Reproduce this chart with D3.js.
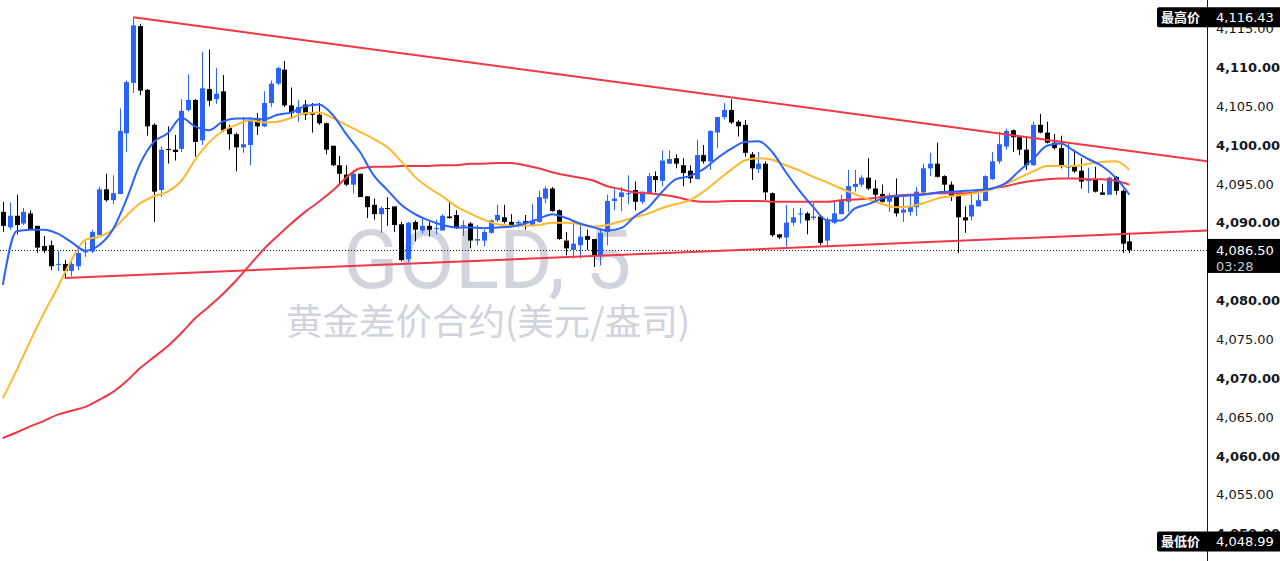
<!DOCTYPE html>
<html>
<head>
<meta charset="utf-8">
<script src="https://cdn.jsdelivr.net/npm/d3@7"></script>
<style>
  html, body { margin: 0; padding: 0; background: #fff; }
  svg { display: block; }
</style>
</head>
<body>
<svg id="chart" width="1280" height="561"></svg>
<script>
// 5 minute candles (oldest first)
const opens = [
  4091.4, 4089.4, 4090.9, 4089.9, 4091.2, 4089.6, 4087.0, 4087.1, 4084.6, 4084.7,
  4083.8, 4084.4, 4086.2, 4086.3, 4088.4, 4094.3, 4092.9, 4093.7, 4101.5, 4108.0,
  4115.3, 4107.1, 4102.6, 4094.2, 4099.5, 4099.4, 4099.5, 4104.5, 4105.8, 4100.6,
  4107.2, 4105.9, 4106.9, 4102.2, 4101.4, 4099.7, 4100.0, 4103.4, 4102.4, 4105.4,
  4107.9, 4109.7, 4105.1, 4104.1, 4105.2, 4104.1, 4103.9, 4102.8, 4099.9, 4097.4,
  4096.2, 4094.9, 4096.3, 4093.4, 4092.3, 4091.1, 4091.9, 4092.1, 4089.8, 4085.3,
  4090.1, 4089.0, 4089.6, 4089.2, 4089.0, 4090.8, 4091.0, 4089.6, 4089.9, 4087.7,
  4087.7, 4088.7, 4090.3, 4090.7, 4090.1, 4089.9, 4090.2, 4089.7, 4090.1, 4093.1,
  4094.4, 4091.6, 4087.7, 4086.5, 4087.1, 4088.3, 4087.9, 4085.8, 4088.8, 4092.8,
  4093.3, 4093.7, 4094.2, 4092.7, 4093.8, 4096.0, 4095.4, 4097.6, 4098.3, 4097.4,
  4096.7, 4095.6, 4098.7, 4097.9, 4101.6, 4103.6, 4104.5, 4103.0, 4102.6, 4098.8,
  4096.9, 4097.6, 4093.8, 4088.5, 4088.1, 4090.0, 4091.1, 4091.2, 4090.6, 4090.8,
  4087.7, 4090.0, 4091.1, 4092.7, 4094.6, 4094.9, 4095.8, 4094.4, 4093.7, 4092.7,
  4093.4, 4091.3, 4091.4, 4092.0, 4093.9, 4097.0, 4097.6, 4096.0, 4094.9, 4093.6,
  4090.7, 4090.8, 4092.1, 4092.8, 4095.6, 4097.9, 4099.8, 4101.9, 4101.0, 4099.4,
  4097.4, 4102.6, 4101.6, 4100.3, 4099.6, 4097.1, 4097.3, 4096.7, 4095.4, 4095.5,
  4093.9, 4093.6, 4095.9, 4094.1, 4087.6
];
const highs = [
  4092.7, 4092.6, 4093.6, 4091.9, 4091.6, 4089.6, 4088.3, 4087.7, 4086.4, 4085.2,
  4085.3, 4086.6, 4087.6, 4089.1, 4094.6, 4096.3, 4096.1, 4104.7, 4108.3, 4116.43,
  4115.6, 4107.2, 4102.8, 4099.8, 4102.4, 4101.3, 4105.9, 4109.1, 4105.9, 4112.0,
  4112.3, 4109.9, 4109.0, 4102.6, 4101.6, 4103.6, 4103.6, 4104.1, 4106.9, 4108.3,
  4110.1, 4110.8, 4107.4, 4105.8, 4105.8, 4105.4, 4105.4, 4102.9, 4099.9, 4098.6,
  4097.4, 4096.8, 4096.3, 4093.4, 4093.1, 4092.1, 4093.3, 4092.1, 4090.1, 4090.1,
  4090.3, 4090.7, 4090.1, 4090.4, 4091.1, 4092.8, 4091.6, 4090.3, 4090.1, 4089.7,
  4089.1, 4090.4, 4092.3, 4092.3, 4091.1, 4090.3, 4091.0, 4092.4, 4094.1, 4094.7,
  4094.6, 4091.7, 4088.8, 4090.1, 4089.9, 4089.1, 4087.9, 4089.1, 4093.6, 4094.4,
  4094.6, 4096.1, 4095.3, 4094.0, 4096.4, 4096.6, 4099.3, 4099.3, 4098.8, 4098.3,
  4097.4, 4100.7, 4100.0, 4101.9, 4103.6, 4105.4, 4105.9, 4103.2, 4103.2, 4099.1,
  4099.1, 4097.9, 4093.9, 4088.5, 4092.3, 4091.9, 4091.9, 4091.4, 4092.6, 4091.0,
  4090.7, 4092.7, 4093.6, 4096.8, 4096.8, 4096.1, 4098.3, 4095.5, 4094.9, 4093.8,
  4095.7, 4093.4, 4093.4, 4094.6, 4097.6, 4099.0, 4100.3, 4096.1, 4095.3, 4093.7,
  4092.1, 4093.7, 4093.8, 4096.1, 4099.1, 4101.7, 4102.1, 4102.0, 4101.0, 4100.9,
  4103.0, 4104.0, 4103.0, 4101.4, 4101.2, 4100.2, 4099.4, 4098.3, 4097.1, 4097.2,
  4095.0, 4095.9, 4096.0, 4094.3, 4088.7
];
const lows = [
  4088.8, 4089.1, 4088.5, 4089.7, 4089.1, 4086.1, 4086.1, 4083.9, 4083.8, 4082.9,
  4083.1, 4083.9, 4085.6, 4086.1, 4088.4, 4092.7, 4092.4, 4093.7, 4099.1, 4106.7,
  4106.4, 4101.2, 4090.1, 4093.3, 4097.6, 4098.0, 4099.1, 4104.3, 4098.5, 4100.0,
  4105.0, 4105.3, 4101.7, 4099.4, 4096.6, 4099.0, 4097.4, 4101.3, 4102.3, 4104.9,
  4107.7, 4104.9, 4103.4, 4103.0, 4103.2, 4101.6, 4102.6, 4098.8, 4097.3, 4095.1,
  4094.7, 4093.8, 4093.3, 4090.6, 4090.4, 4088.7, 4089.6, 4088.8, 4085.0, 4084.9,
  4087.6, 4088.6, 4088.2, 4088.5, 4089.0, 4090.5, 4089.2, 4088.3, 4086.7, 4087.1,
  4087.0, 4088.6, 4090.1, 4089.9, 4089.4, 4089.4, 4089.1, 4089.5, 4090.0, 4092.5,
  4091.4, 4087.8, 4085.8, 4085.4, 4085.4, 4086.5, 4084.3, 4084.5, 4087.1, 4091.6,
  4091.5, 4092.4, 4091.6, 4092.4, 4093.8, 4093.9, 4094.7, 4097.6, 4097.0, 4094.7,
  4095.1, 4095.6, 4097.6, 4096.8, 4099.6, 4103.3, 4102.7, 4101.1, 4098.5, 4095.5,
  4096.4, 4092.9, 4088.2, 4087.9, 4086.9, 4089.6, 4089.9, 4088.5, 4090.3, 4087.1,
  4087.0, 4089.8, 4091.1, 4091.4, 4094.0, 4094.6, 4094.2, 4092.8, 4092.6, 4091.4,
  4090.8, 4090.1, 4090.9, 4090.9, 4093.8, 4096.0, 4095.8, 4093.9, 4092.8, 4086.1,
  4088.7, 4090.3, 4092.1, 4092.8, 4095.5, 4097.6, 4099.4, 4099.1, 4098.7, 4096.8,
  4097.3, 4101.5, 4100.2, 4099.4, 4097.0, 4095.8, 4096.4, 4094.4, 4093.8, 4093.9,
  4093.6, 4093.6, 4093.6, 4086.1, 4086.1
];
const closes = [
  4089.6, 4090.9, 4089.7, 4091.4, 4089.2, 4086.8, 4086.4, 4084.4, 4084.7, 4083.8,
  4084.7, 4086.1, 4086.3, 4088.8, 4094.3, 4092.9, 4093.8, 4101.8, 4108.1, 4115.4,
  4107.0, 4102.4, 4094.0, 4099.4, 4099.4, 4099.1, 4104.4, 4105.8, 4100.4, 4107.3,
  4105.7, 4106.6, 4101.9, 4101.4, 4099.7, 4100.1, 4103.2, 4102.4, 4105.4, 4107.9,
  4109.9, 4105.1, 4104.1, 4104.9, 4103.9, 4103.9, 4102.8, 4099.4, 4097.4, 4096.3,
  4094.9, 4096.3, 4093.3, 4092.0, 4091.1, 4091.9, 4091.8, 4089.7, 4085.2, 4090.0,
  4089.1, 4089.6, 4089.1, 4089.3, 4090.9, 4090.6, 4089.3, 4089.7, 4087.7, 4087.9,
  4088.8, 4090.3, 4091.0, 4090.1, 4089.7, 4090.1, 4090.0, 4090.2, 4093.3, 4094.4,
  4091.5, 4087.9, 4086.7, 4087.3, 4088.2, 4087.8, 4085.8, 4088.7, 4092.8, 4093.1,
  4093.9, 4093.8, 4092.7, 4094.0, 4096.0, 4095.5, 4098.0, 4098.2, 4097.6, 4096.4,
  4095.7, 4098.7, 4097.9, 4101.8, 4103.6, 4104.5, 4102.9, 4102.4, 4099.0, 4097.0,
  4097.6, 4093.9, 4088.4, 4088.1, 4090.0, 4090.7, 4091.2, 4090.3, 4090.8, 4087.4,
  4090.4, 4091.2, 4092.9, 4094.7, 4095.0, 4095.8, 4094.4, 4093.6, 4092.7, 4093.4,
  4091.2, 4091.7, 4092.0, 4094.0, 4097.0, 4097.6, 4095.9, 4094.9, 4093.5, 4090.7,
  4090.3, 4092.3, 4092.9, 4096.0, 4097.9, 4100.1, 4101.8, 4101.0, 4099.4, 4097.4,
  4102.6, 4101.6, 4100.3, 4099.6, 4097.2, 4097.3, 4096.6, 4095.3, 4095.5, 4094.0,
  4093.6, 4095.8, 4094.1, 4087.3, 4086.5
];

// moving averages, read every 2nd candle
const maStep = 2;
const maFast = [
  4082.0, 4088.9, 4089.1, 4089.1, 4088.6, 4087.5, 4086.4, 4087.1, 4089.1, 4093.0,
  4097.6, 4100.4, 4101.5, 4103.5, 4102.4, 4101.9, 4103.0, 4103.4, 4103.4, 4103.3,
  4103.9, 4104.2, 4105.0, 4105.2, 4103.9, 4101.4, 4099.1, 4096.1, 4094.2, 4092.3,
  4091.1, 4090.3, 4089.7, 4089.4, 4089.4, 4089.3, 4089.4, 4089.5, 4089.9, 4090.5,
  4091.1, 4090.6, 4089.9, 4089.4, 4089.0, 4089.3, 4090.8, 4092.0, 4094.0, 4095.6,
  4096.0, 4096.9, 4098.3, 4099.5, 4100.4, 4100.5, 4099.1, 4096.5, 4094.1, 4092.0,
  4090.3, 4090.3, 4091.8, 4092.4, 4093.1, 4093.4, 4093.5, 4093.6, 4093.9, 4094.0,
  4094.1, 4094.2, 4094.4, 4095.1, 4096.7, 4098.2, 4099.9, 4100.2, 4099.2, 4098.2,
  4097.3, 4095.8, 4093.6
];
const maMid = [
  4067.4, 4071.0, 4074.8, 4078.4, 4081.7, 4085.2, 4087.8, 4088.2, 4089.1, 4090.9,
  4092.5, 4093.4, 4094.0, 4095.4, 4098.1, 4100.3, 4101.8, 4102.6, 4103.2, 4102.9,
  4103.0, 4103.5, 4104.1, 4104.2, 4103.5, 4102.6, 4101.7, 4100.8, 4099.7, 4097.9,
  4095.9, 4094.5, 4093.4, 4092.1, 4091.2, 4090.4, 4089.8, 4089.6, 4089.6, 4089.7,
  4090.0, 4090.0, 4089.8, 4089.5, 4089.7, 4090.2, 4090.7, 4091.2, 4091.9, 4092.4,
  4092.9, 4094.0, 4095.4, 4096.8, 4098.0, 4098.3, 4098.1, 4097.4, 4096.7, 4095.9,
  4095.2, 4094.4, 4093.7, 4093.0, 4092.4, 4092.0, 4092.1, 4092.5, 4093.1, 4093.4,
  4093.6, 4093.9, 4094.3, 4095.0, 4095.8, 4096.6, 4097.3, 4097.3, 4097.3, 4097.6,
  4097.8, 4097.9, 4096.8
];
const maSlow = [
  4062.3, 4063.0, 4063.8, 4064.5, 4065.3, 4065.8, 4066.3, 4067.2, 4068.2, 4069.6,
  4071.3, 4072.7, 4074.1, 4075.8, 4077.7, 4079.2, 4080.8, 4082.6, 4084.6, 4086.6,
  4088.3, 4089.9, 4091.4, 4092.7, 4094.1, 4095.8, 4097.0, 4097.2, 4097.2, 4097.3,
  4097.3, 4097.3, 4097.4, 4097.4, 4097.6, 4097.6, 4097.7, 4097.7, 4097.4, 4097.0,
  4096.5, 4096.1, 4095.8, 4095.4, 4094.7, 4094.3, 4093.9, 4093.8, 4093.6, 4093.3,
  4092.9, 4092.7, 4092.7, 4092.8, 4092.8, 4092.8, 4092.7, 4092.7, 4092.7, 4092.7,
  4092.7, 4092.9, 4093.0, 4093.1, 4093.3, 4093.5, 4093.6, 4093.7, 4093.8, 4093.8,
  4093.8, 4094.0, 4094.4, 4094.7, 4095.1, 4095.4, 4095.6, 4095.7, 4095.7, 4095.6,
  4095.6, 4095.4, 4094.9
];

// trend lines drawn on the chart: [candle index, price]
const trendUpper = [[19, 4116.43], [175.4, 4097.9]];
const trendLower = [[9, 4082.9], [175.4, 4089.0]];

// 4,085 sits under the last price badge, so it is not listed
const tickValues = [4050, 4055, 4060, 4065, 4070, 4075, 4080, 4090, 4095, 4100, 4105, 4110, 4115];
const highPrice = 4116.43;
const lowPrice = 4048.99;
const lastPrice = 4086.5;
const countdown = '03:28';
const watermark = ['GOLD, 5', '黄金差价合约(美元/盎司)'];

const width = 1280;
const height = 561;
const axisX = 1207;
const upColor = '#2962ff';
const downColor = '#000000';
const numFont = '"DejaVu Sans", sans-serif';
const cjkFont = '"Noto Sans CJK SC", sans-serif';
const fmt = d3.format(',.2f');

const svg = d3.select('#chart');
svg.append('rect').attr('width', width).attr('height', height).attr('fill', '#fff');

const x = d3.scaleLinear().domain([0, opens.length - 1]).range([2.8, 1129.4]);
const y = d3.scaleLinear().domain([4045, 4120]).range([572.4, -10.4]);

svg.append('clipPath').attr('id', 'plot-clip')
  .append('rect').attr('width', axisX).attr('height', height);
const plot = svg.append('g').attr('clip-path', 'url(#plot-clip)');

// watermark
plot.append('text')
  .text(watermark[0])
  .attr('x', 487).attr('y', 288)
  .attr('text-anchor', 'middle')
  .attr('font-family', 'Roboto, sans-serif')
  .attr('font-size', 82)
  .attr('fill', '#d1d4dc');
plot.append('text')
  .text(watermark[1])
  .attr('x', 488).attr('y', 335)
  .attr('text-anchor', 'middle')
  .attr('font-family', cjkFont)
  .attr('font-size', 36.5)
  .attr('fill', '#d1d4dc');

// last price dotted line
plot.append('line')
  .attr('x1', 0).attr('x2', axisX)
  .attr('y1', Math.round(y(lastPrice)) + 0.5).attr('y2', Math.round(y(lastPrice)) + 0.5)
  .attr('stroke', '#131722')
  .attr('stroke-dasharray', '1,2');

const candles = opens.map((o, i) => ({ i, o, h: highs[i], l: lows[i], c: closes[i] }));
const colorOf = (d) => (d.c >= d.o ? upColor : downColor);

const candleG = plot.append('g')
  .selectAll('.candle')
  .data(candles)
  .join('g')
  .attr('class', 'candle');

candleG.append('line')
  .attr('x1', (d) => Math.round(x(d.i)) + 0.5)
  .attr('x2', (d) => Math.round(x(d.i)) + 0.5)
  .attr('y1', (d) => y(d.h))
  .attr('y2', (d) => y(d.l))
  .attr('stroke', colorOf)
  .attr('stroke-width', 1);

candleG.append('rect')
  .attr('x', (d) => Math.round(x(d.i)) - 2)
  .attr('width', 5)
  .attr('y', (d) => y(Math.max(d.o, d.c)))
  .attr('height', (d) => Math.max(1, Math.abs(y(d.o) - y(d.c))))
  .attr('fill', colorOf);

// moving averages
const maLine = d3.line()
  .x((d, k) => x(k * maStep))
  .y((d) => y(d))
  .curve(d3.curveMonotoneX);

[[maSlow, '#f23645'], [maMid, '#ffb82e'], [maFast, upColor]].forEach(([series, color]) => {
  plot.append('path')
    .attr('d', maLine(series))
    .attr('fill', 'none')
    .attr('stroke', color)
    .attr('stroke-width', 2)
    .attr('stroke-linejoin', 'round');
});

// trend lines
[trendUpper, trendLower].forEach((pts) => {
  plot.append('line')
    .attr('x1', x(pts[0][0])).attr('y1', y(pts[0][1]))
    .attr('x2', x(pts[1][0])).attr('y2', y(pts[1][1]))
    .attr('stroke', '#f23645')
    .attr('stroke-width', 2);
});

// price axis
const yAxis = d3.axisRight(y)
  .tickValues(tickValues)
  .tickFormat(fmt)
  .tickSize(0)
  .tickPadding(9);

const axisG = svg.append('g')
  .attr('transform', `translate(${axisX},0)`)
  .call(yAxis);
axisG.select('.domain').remove();
axisG.selectAll('text')
  .attr('font-family', numFont)
  .attr('font-size', 13)
  .attr('fill', '#131722')
  .attr('font-weight', (d) => (d % 10 === 0 ? 'bold' : 'normal'));

svg.append('line')
  .attr('x1', axisX + 0.5).attr('x2', axisX + 0.5)
  .attr('y1', 0).attr('y2', height)
  .attr('stroke', '#131722');

// high / low badges
[['最高价', highPrice], ['最低价', lowPrice]].forEach(([label, price]) => {
  const py = y(price);
  svg.append('rect')
    .attr('x', 1157).attr('y', py - 10)
    .attr('width', 126).attr('height', 20)
    .attr('rx', 2)
    .attr('fill', '#000');
  svg.append('text')
    .text(label)
    .attr('x', 1161).attr('y', py).attr('dy', '0.36em')
    .attr('font-family', cjkFont)
    .attr('font-weight', 'bold')
    .attr('font-size', 13)
    .attr('fill', '#fff');
  svg.append('text')
    .text(fmt(price))
    .attr('x', axisX + 9).attr('y', py).attr('dy', '0.36em')
    .attr('font-family', numFont)
    .attr('font-size', 13)
    .attr('fill', '#fff');
});

// last price badge
const ly = y(lastPrice);
svg.append('rect')
  .attr('x', axisX).attr('y', ly - 11)
  .attr('width', width - axisX).attr('height', 34)
  .attr('fill', '#000');
svg.append('text')
  .text(fmt(lastPrice))
  .attr('x', axisX + 9).attr('y', ly).attr('dy', '0.36em')
  .attr('font-family', numFont)
  .attr('font-size', 13)
  .attr('fill', '#fff');
svg.append('text')
  .text(countdown)
  .attr('x', axisX + 9).attr('y', ly + 16).attr('dy', '0.36em')
  .attr('font-family', numFont)
  .attr('font-size', 13)
  .attr('fill', '#c8cad0');
</script>
</body>
</html>
